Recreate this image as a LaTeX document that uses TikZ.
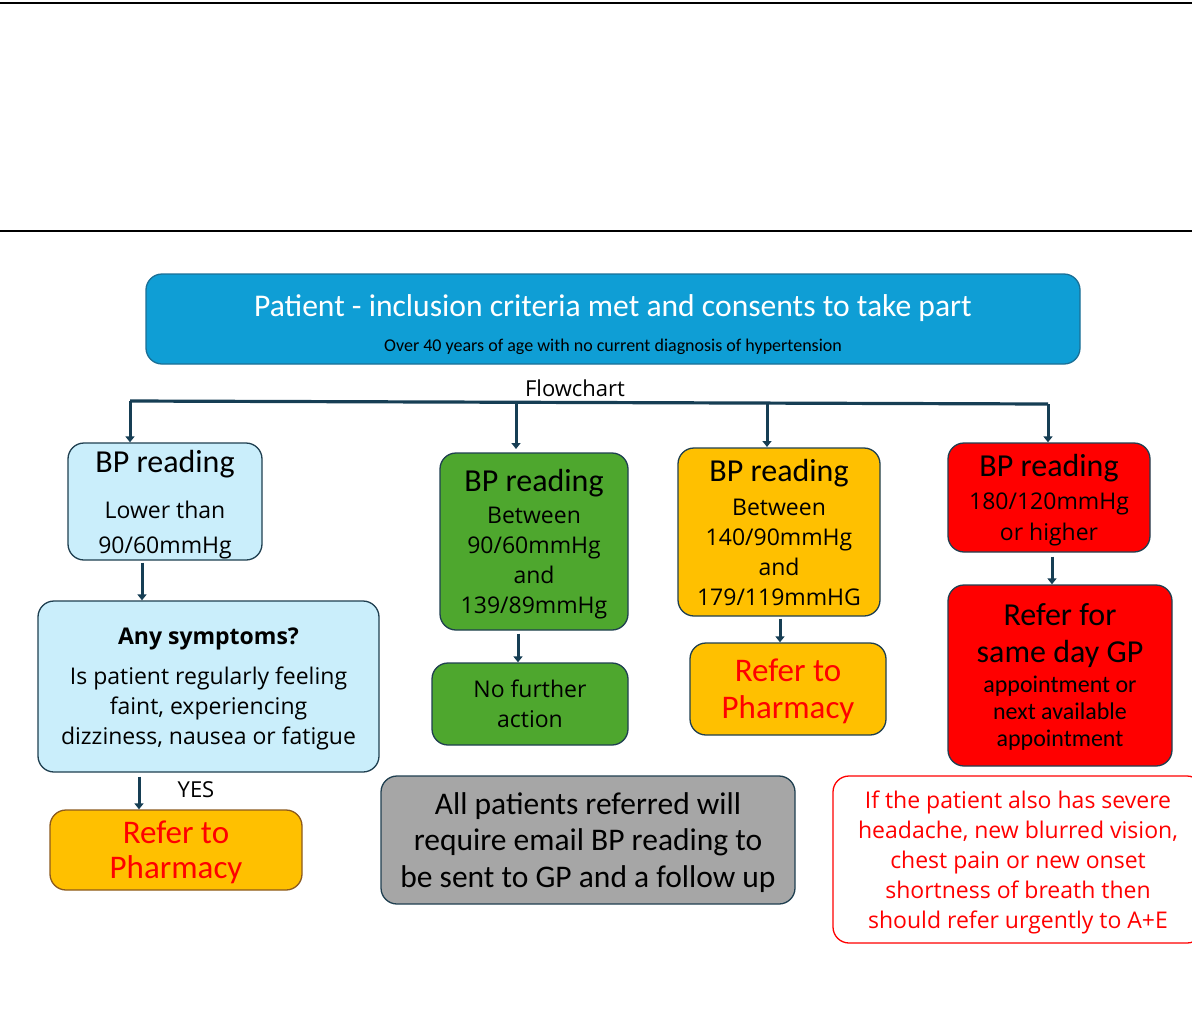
\documentclass[tikz,border=0pt]{standalone}
\usepackage{fontspec}
\setmainfont{Carlito}
\newfontfamily\bodyf{Open Sans}
\usepackage{xcolor}
\usetikzlibrary{arrows.meta}
\definecolor{edge}{HTML}{1F3F50}
\definecolor{arrowc}{HTML}{163E54}
\definecolor{titleblue}{HTML}{0F9ED5}
\definecolor{titleedge}{HTML}{1A6F96}
\definecolor{lightb}{HTML}{CAEEFB}
\definecolor{okgreen}{HTML}{4EA72E}
\definecolor{amber}{HTML}{FFC000}
\definecolor{amberedge}{HTML}{8C5A1E}
\definecolor{alertred}{HTML}{FF0000}
\definecolor{note}{HTML}{A6A6A6}
\newcommand{\head}{\rmfamily\fontsize{32}{35}\selectfont}
\newcommand{\bodytext}[2]{\bodyf\fontsize{#1}{#2}\selectfont}
\tikzset{box/.style={draw=edge, line width=1.3pt, rounded corners=16pt, align=center, inner sep=0pt, text depth=0pt}}
\tikzset{flow/.style={draw=arrowc, line width=3pt, -{Triangle[length=6pt,width=9pt]}}}

\begin{document}
\begin{tikzpicture}[x=1pt, y=-1pt]
\useasboundingbox (0,0) rectangle (1192,1034);
\draw[line width=1.5pt] (0,3) -- (1192,3);
\draw[line width=1.5pt] (0,231) -- (1192,231);
\node[box, fill=titleblue, draw=titleedge, minimum width=934pt, minimum height=90pt, font=\fontsize{31.6}{38}\selectfont] (patient) at (613,319) {\rule{0pt}{29pt}\textcolor{white}{Patient - inclusion criteria met and consents to take part}\\[-3pt] {\fontsize{18}{20}\selectfont Over 40 years of age with no current diagnosis of hypertension}};
\node[font=\bodytext{22}{24}] (flowlbl) at (575,388) {Flowchart};
\coordinate (busL) at (130,401);
\coordinate (busR) at (1048,404);
\draw[draw=arrowc, line width=3.2pt] (busL) -- (busR);
\node[box, fill=lightb, minimum width=194pt, minimum height=117pt, font=\bodytext{23}{35}] (low) at (165,501.5) {{\head BP reading}\\[11pt] Lower than\\ 90/60mmHg};
\node[box, fill=okgreen, minimum width=188pt, minimum height=177pt, font=\bodytext{23}{30}] (normal) at (534,541.5) {{\head BP reading}\\[2pt] Between\\ 90/60mmHg\\ and\\ 139/89mmHg};
\node[box, fill=amber, minimum width=202pt, minimum height=168pt, font=\bodytext{23}{30}] (high) at (779,532) {{\head BP reading}\\[4pt] Between\\ 140/90mmHg\\ and\\ 179/119mmHG};
\node[box, fill=alertred, minimum width=202pt, minimum height=109pt, font=\bodytext{23}{31}] (crisis) at (1049,497.5) {{\head BP reading}\\[2pt] 180/120mmHg\\ or higher};
\node[box, fill=lightb, minimum width=341pt, minimum height=171pt, font=\bodytext{23}{30}] (symp) at (208.5,686.5) {{\bfseries Any symptoms?}\\[10pt] Is patient regularly feeling\\ faint, experiencing\\ dizziness, nausea or fatigue};
\node[box, fill=amber, draw=amberedge, minimum width=252pt, minimum height=80pt, font=\fontsize{33}{35}\selectfont, text=alertred] (pharmL) at (176,850) {Refer to\\ Pharmacy};
\node[font=\bodytext{22}{24}] (yes) at (196,790) {YES};
\node[box, fill=okgreen, minimum width=196pt, minimum height=82pt, font=\bodytext{23}{30}] (nofurther) at (530,704) {No further\\ action};
\node[box, fill=amber, minimum width=196pt, minimum height=92pt, font=\fontsize{33}{37}\selectfont, text=alertred] (pharmM) at (788,689) {Refer to\\ Pharmacy};
\node[box, fill=alertred, minimum width=224pt, minimum height=181pt, font=\fontsize{24}{27}\selectfont] (sameday) at (1060,675.5) {{\head Refer for}\\[10pt] {\head same day GP}\\[3pt] appointment or\\ next available\\ appointment};
\node[box, fill=note, minimum width=414pt, minimum height=128pt, font=\fontsize{31.5}{36.5}\selectfont] (allpat) at (588,840) {All patients referred will\\ require email BP reading to\\ be sent to GP and a follow up};
\node[box, fill=white, draw=alertred, minimum width=370pt, minimum height=167pt, font=\bodytext{23}{30}, text=alertred] (urgent) at (1018,859.5) {If the patient also has severe\\ headache, new blurred vision,\\ chest pain or new onset\\ shortness of breath then\\ should refer urgently to A+E};
% arrows
\draw[flow] (busL) -- (busL |- low.north);
\draw[flow] (516,402.5) -- (516,449);
\draw[flow] (767,403.5) -- (767,447);
\draw[flow] (busR) -- (busR |- crisis.north);
\draw[flow] ([xshift=-23pt]low.south) ++(0,2) -- ([xshift=-23pt]low.south |- symp.north);
\draw[flow] ([xshift=-69.5pt]symp.south) ++(0,4) -- ([xshift=-69.5pt]symp.south |- pharmL.north);
\draw[flow] ([xshift=-16pt]normal.south) ++(0,3) -- ([xshift=-16pt]normal.south |- nofurther.north);
\draw[flow] ([xshift=1pt]high.south) ++(0,2) -- ([xshift=1pt]high.south |- pharmM.north);
\draw[flow] ([xshift=3pt]crisis.south) ++(0,4) -- ([xshift=3pt]crisis.south |- sameday.north);
\end{tikzpicture}
\end{document}
